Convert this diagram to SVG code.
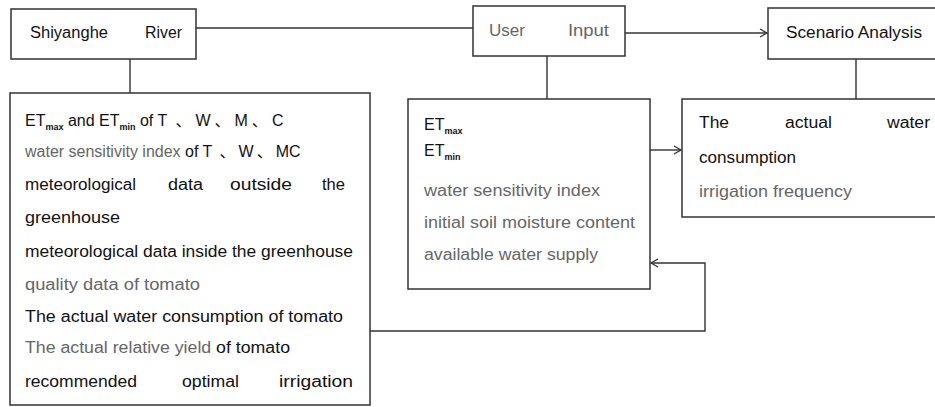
<svg xmlns="http://www.w3.org/2000/svg" width="935" height="407" viewBox="0 0 935 407">
<defs>
<marker id="arr" markerWidth="10" markerHeight="10" refX="8" refY="5" orient="auto" markerUnits="userSpaceOnUse">
<path d="M1,1 L8,5 L1,9" fill="none" stroke="#333" stroke-width="1.3"/>
</marker>
<style>
.box{fill:#fff;stroke:#333;stroke-width:1.5}
.ln{fill:none;stroke:#333;stroke-width:1.4}
text{font-family:"Liberation Sans","Noto Sans CJK SC",sans-serif;font-size:16px;fill:#111}
.g{fill:#666}
.sub{font-size:9px;font-weight:bold}
</style>
</defs>
<rect width="935" height="407" fill="#fff"/>
<g id="connectors">
<line class="ln" x1="196" y1="28" x2="473" y2="28"/>
<line class="ln" x1="625" y1="33" x2="767" y2="33" marker-end="url(#arr)"/>
<line class="ln" x1="130" y1="59" x2="130" y2="93"/>
<line class="ln" x1="547" y1="56" x2="547" y2="99"/>
<line class="ln" x1="856" y1="59" x2="856" y2="99"/>
<line class="ln" x1="650" y1="150" x2="681" y2="150" marker-end="url(#arr)"/>
<polyline class="ln" points="370,331 705,331 705,263 651,263" marker-end="url(#arr)"/>
</g>
<g id="shiyanghe">
<rect class="box" x="11" y="9" width="185" height="50"/>
<text x="30" y="38" textLength="78" lengthAdjust="spacingAndGlyphs">Shiyanghe</text>
<text x="145" y="38" textLength="37" lengthAdjust="spacingAndGlyphs">River</text>
</g>
<g id="userinput">
<rect class="box" x="473" y="6" width="152" height="50"/>
<text class="g" x="489" y="36" textLength="36" lengthAdjust="spacingAndGlyphs">User</text>
<text class="g" x="568" y="36" textLength="41" lengthAdjust="spacingAndGlyphs">Input</text>
</g>
<g id="scenario">
<rect class="box" x="768" y="8" width="170" height="51"/>
<text x="786" y="38" textLength="136" lengthAdjust="spacingAndGlyphs">Scenario Analysis</text>
</g>
<g id="database">
<rect class="box" x="10" y="93" width="360" height="312"/>
<text x="25" y="126">ET<tspan class="sub" dy="4">max</tspan><tspan dy="-4"> and ET</tspan><tspan class="sub" dy="4">min</tspan><tspan dy="-4"> of T </tspan><tspan dx="4">、</tspan><tspan dx="4">W</tspan><tspan dx="4">、</tspan><tspan dx="4">M</tspan><tspan dx="4">、</tspan><tspan dx="4">C</tspan></text>
<text x="25" y="157"><tspan class="g">water sensitivity index </tspan>of T <tspan dx="3">、</tspan><tspan dx="3">W</tspan><tspan dx="3">、</tspan><tspan dx="3">MC</tspan></text>
<text x="25" y="190" textLength="111" lengthAdjust="spacingAndGlyphs">meteorological</text>
<text x="168" y="190" textLength="35" lengthAdjust="spacingAndGlyphs">data</text>
<text x="230" y="190" textLength="62" lengthAdjust="spacingAndGlyphs">outside</text>
<text x="322" y="190" textLength="23" lengthAdjust="spacingAndGlyphs">the</text>
<text x="25" y="223" textLength="95" lengthAdjust="spacingAndGlyphs">greenhouse</text>
<text x="25" y="257" textLength="328" lengthAdjust="spacingAndGlyphs">meteorological data inside the greenhouse</text>
<text class="g" x="25" y="290" textLength="175" lengthAdjust="spacingAndGlyphs">quality data of tomato</text>
<text x="25" y="322" textLength="318" lengthAdjust="spacingAndGlyphs">The actual water consumption of tomato</text>
<text x="25" y="353" textLength="265" lengthAdjust="spacingAndGlyphs"><tspan class="g">The actual relative yield </tspan>of tomato</text>
<text x="25" y="387" textLength="112" lengthAdjust="spacingAndGlyphs">recommended</text>
<text x="182" y="387" textLength="57" lengthAdjust="spacingAndGlyphs">optimal</text>
<text x="279" y="387" textLength="74" lengthAdjust="spacingAndGlyphs">irrigation</text>
</g>
<g id="inputs">
<rect class="box" x="408" y="99" width="242" height="190"/>
<text x="424" y="130">ET<tspan class="sub" dy="4">max</tspan></text>
<text x="424" y="156">ET<tspan class="sub" dy="4">min</tspan></text>
<text class="g" x="424" y="196" textLength="176" lengthAdjust="spacingAndGlyphs">water sensitivity index</text>
<text class="g" x="424" y="228" textLength="211" lengthAdjust="spacingAndGlyphs">initial soil moisture content</text>
<text class="g" x="424" y="260" textLength="174" lengthAdjust="spacingAndGlyphs">available water supply</text>
</g>
<g id="results">
<rect class="box" x="682" y="99" width="256" height="118"/>
<text x="699" y="128" textLength="30" lengthAdjust="spacingAndGlyphs">The</text>
<text x="785" y="128" textLength="47" lengthAdjust="spacingAndGlyphs">actual</text>
<text x="887" y="128" textLength="43" lengthAdjust="spacingAndGlyphs">water</text>
<text x="699" y="163" textLength="97" lengthAdjust="spacingAndGlyphs">consumption</text>
<text class="g" x="699" y="197" textLength="153" lengthAdjust="spacingAndGlyphs">irrigation frequency</text>
</g>
</svg>
